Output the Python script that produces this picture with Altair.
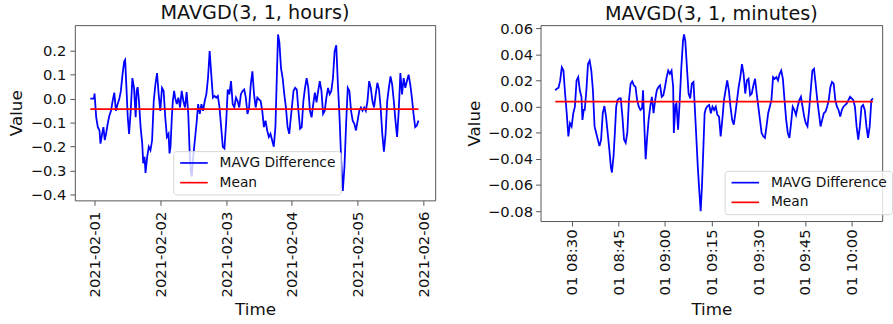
import altair as alt
import pandas as pd

TITLE_HOURS = "MAVGD(3, 1, hours)"
TITLE_MINUTES = "MAVGD(3, 1, minutes)"
X_TITLE = "Time"
Y_TITLE = "Value"
SERIES = ["MAVG Difference", "Mean"]
COLORS = ["#0000ff", "#ff0000"]

# ---- hourly panel: offsets in hours from 2021-02-01 00:00 ----
HOURS_START = "2021-02-01 00:00:00"
HOURS_OFFSET = [
    -1.56, -0.24, 0.0, 0.6, 1.2, 1.8, 2.16, 2.76, 3.24, 3.72,
    4.2, 4.8, 5.4, 6.0, 6.6, 7.2, 7.8, 8.4, 9.0, 9.6,
    10.2, 10.8, 11.16, 11.64, 12.12, 12.6, 13.2, 13.8, 14.4, 15.0,
    15.36, 15.72, 16.2, 16.8, 17.4, 17.76, 18.24, 18.6, 19.2, 19.8,
    20.4, 21.0, 21.6, 22.2, 22.8, 23.4, 24.0, 24.6, 25.2, 25.8,
    26.4, 27.0, 27.36, 27.72, 28.2, 28.56, 29.04, 29.4, 30.0, 30.6,
    31.2, 31.8, 32.4, 33.0, 33.6, 34.2, 34.68, 35.16, 35.52, 36.0,
    36.6, 37.2, 37.8, 38.4, 39.0, 39.6, 40.2, 40.8, 41.4, 42.0,
    42.6, 43.2, 43.8, 44.4, 45.0, 45.6, 46.2, 46.8, 47.4, 48.0,
    48.6, 49.2, 49.8, 50.4, 51.0, 51.6, 52.2, 52.8, 53.4, 54.0,
    54.6, 55.2, 55.8, 56.4, 57.0, 57.6, 58.2, 58.8, 59.4, 60.0,
    60.6, 61.2, 61.8, 62.4, 63.0, 63.6, 64.2, 64.8, 65.4, 66.0,
    66.6, 66.96, 67.44, 68.04, 68.64, 69.24, 69.84, 70.44, 71.04, 71.4,
    72.0, 72.6, 73.2, 73.8, 74.4, 75.0, 75.6, 76.2, 76.8, 77.4,
    78.0, 78.6, 79.2, 79.8, 80.4, 81.0, 81.6, 82.2, 82.8, 83.4,
    84.0, 84.6, 85.2, 85.8, 86.4, 87.0, 87.6, 88.2, 88.8, 89.4,
    90.0, 90.6, 91.2, 91.8, 92.4, 93.0, 93.6, 94.2, 94.8, 95.4,
    96.0, 96.6, 97.2, 97.8, 98.4, 99.0, 99.6, 100.2, 100.8, 101.4,
    102.0, 102.6, 103.2, 103.8, 104.4, 105.0, 105.6, 106.2, 106.8, 107.4,
    108.0, 108.6, 109.2, 109.8, 110.4, 111.0, 111.6, 112.2, 112.8, 113.4,
    114.0, 114.6, 115.2, 115.8, 116.4, 117.0, 117.6, 118.2,
]
HOURS_VALUE = [
    0.0, 0.0, 0.021, -0.078, -0.119, -0.133, -0.188, -0.147, -0.119, -0.173,
    -0.147, -0.105, -0.071, -0.051, -0.010, 0.025, -0.051, -0.023, -0.003, 0.032,
    0.100, 0.155, 0.162, 0.045, -0.078, -0.147, -0.051, 0.086, 0.045, -0.078,
    0.032, 0.048, -0.010, -0.119, -0.188, -0.270, -0.243, -0.310, -0.243, -0.201,
    -0.216, -0.174, -0.010, 0.059, 0.107, 0.018, -0.051, 0.045, 0.032, -0.078,
    -0.160, -0.147, -0.229, -0.201, -0.078, -0.010, 0.032, 0.004, -0.023, 0.004,
    -0.037, 0.032, -0.010, -0.037, 0.027, -0.064, -0.215, -0.310, -0.325, -0.242,
    -0.174, -0.105, -0.023, -0.064, -0.023, -0.051, -0.010, 0.018, 0.086, 0.199,
    0.100, 0.004, 0.011, 0.004, 0.011, -0.037, -0.119, -0.201, -0.208, -0.105,
    0.038, 0.018, 0.073, -0.023, -0.037, 0.004, -0.010, -0.037, 0.018, 0.032,
    0.038, 0.004, -0.064, -0.037, 0.059, 0.114, 0.018, -0.037, 0.004, -0.003,
    -0.010, -0.051, -0.119, -0.092, -0.133, -0.160, -0.147, -0.174, -0.201, -0.119,
    0.127, 0.268, 0.236, 0.127, 0.086, 0.018, -0.037, -0.119, -0.147, -0.105,
    -0.037, 0.032, 0.045, 0.038, -0.051, -0.126, -0.119, -0.010, 0.045, 0.086,
    0.045, -0.051, -0.078, -0.023, 0.025, -0.016, 0.032, 0.073, 0.032, -0.064,
    -0.051, 0.004, 0.045, 0.018, 0.032, 0.086, 0.197, 0.223, 0.059, -0.078,
    -0.256, -0.386, -0.284, -0.105, 0.045, 0.032, -0.051, -0.092, -0.105, -0.133,
    -0.092, -0.051, -0.037, -0.051, -0.037, -0.051, -0.010, 0.073, 0.045, -0.010,
    -0.037, 0.018, 0.066, 0.038, -0.037, -0.147, -0.222, -0.147, -0.010, 0.045,
    0.093, 0.059, -0.010, -0.092, -0.160, -0.051, 0.107, 0.018, 0.086, 0.045,
    0.073, 0.100, 0.059, 0.004, -0.064, -0.119, -0.112, -0.092,
]
HOURS_MEAN = -0.0435

# ---- minute panel: offsets in minutes from 2021-02-01 08:00 ----
MINUTES_START = "2021-02-01 08:00:00"
MINUTES_OFFSET = [
    24.74, 25.26, 25.79, 26.32, 26.84, 27.37, 27.89, 28.42, 28.95, 29.47,
    30.0, 30.53, 31.05, 31.58, 32.11, 32.63, 33.16, 33.47, 33.89, 34.21,
    34.74, 35.26, 35.79, 36.32, 36.84, 37.37, 37.89, 38.42, 38.95, 39.47,
    40.0, 40.53, 41.05, 41.58, 42.11, 42.63, 42.95, 43.47, 43.89, 44.32,
    44.74, 45.26, 45.79, 46.32, 46.84, 47.37, 47.89, 48.42, 48.95, 49.47,
    50.0, 50.53, 51.05, 51.58, 52.11, 52.63, 52.95, 53.37, 53.79, 54.21,
    54.74, 55.26, 55.79, 56.32, 56.84, 57.37, 57.89, 58.42, 58.95, 59.47,
    60.0, 60.53, 61.05, 61.58, 62.11, 62.63, 62.84, 63.37, 63.68, 64.21,
    64.74, 65.26, 65.79, 66.11, 66.53, 67.05, 67.58, 68.11, 68.63, 69.16,
    69.47, 70.0, 70.53, 71.05, 71.47, 71.89, 72.32, 72.74, 73.16, 73.68,
    74.21, 74.74, 75.26, 75.79, 76.32, 76.84, 77.37, 77.89, 78.42, 78.95,
    79.47, 80.0, 80.53, 81.05, 81.58, 82.11, 82.63, 83.16, 83.68, 84.21,
    84.74, 85.26, 85.79, 86.32, 86.84, 87.37, 87.89, 88.42, 88.95, 89.47,
    90.0, 90.53, 91.05, 91.58, 92.11, 92.63, 93.16, 93.68, 94.21, 94.74,
    95.26, 95.79, 96.32, 96.84, 97.37, 97.89, 98.42, 98.95, 99.47, 100.0,
    100.53, 101.05, 101.58, 102.11, 102.63, 103.16, 103.68, 104.21, 104.74, 105.26,
    105.79, 106.32, 106.84, 107.37, 107.89, 108.42, 108.95, 109.47, 110.0, 110.53,
    111.05, 111.58, 112.11, 112.63, 113.16, 113.68, 114.21, 114.74, 115.26, 115.79,
    116.32, 116.84, 117.37, 117.89, 118.42, 118.95, 119.47, 120.0, 120.53, 121.05,
    121.58, 122.11, 122.63, 123.16, 123.68, 124.21, 124.74, 125.26, 125.79, 126.32,
    126.84,
]
MINUTES_VALUE = [
    0.0126, 0.0138, 0.0146, 0.0201, 0.0302, 0.0277, 0.0101, -0.0050, -0.0227, -0.0126,
    -0.0151, -0.0050, 0.0, 0.0201, 0.0227, 0.0126, 0.0076, -0.0101, -0.0025, -0.0025,
    0.0126, 0.0327, 0.0353, 0.0277, 0.0126, -0.0151, -0.0201, -0.0252, -0.0302, -0.0252,
    -0.0050, 0.0005, -0.0076, -0.0201, -0.0327, -0.0466, -0.0504, -0.0378, -0.0201, 0.0,
    0.0050, 0.0063, 0.0063, -0.0076, -0.0252, -0.0277, -0.0201, 0.0050, 0.0176, 0.0194,
    0.0164, 0.0151, 0.0050, 0.0, -0.0025, -0.0013, 0.0126, -0.0151, -0.0403, -0.0252,
    -0.0101, 0.0, 0.0076, -0.0050, 0.0050, 0.0126, 0.0151, 0.0164, 0.0076, 0.0088,
    0.0151, 0.0227, 0.0277, 0.0252, 0.0277, 0.0151, -0.0201, 0.0013, 0.0025, -0.0176,
    0.0050, 0.0302, 0.0504, 0.0554, 0.0504, 0.0302, 0.0101, 0.0063, 0.0176, 0.0189,
    0.0050, -0.0201, -0.0453, -0.0655, -0.0801, -0.0604, -0.0327, -0.0050, -0.0013, 0.0005,
    0.0013, -0.0050, 0.0, -0.0025, 0.0, -0.0063, -0.0076, -0.0227, -0.0101, 0.0050,
    0.0126, 0.0201, 0.0126, 0.0, -0.0101, -0.0138, -0.0050, 0.0050, 0.0151, 0.0227,
    0.0327, 0.0252, 0.0101, 0.0201, 0.0214, 0.0088, 0.0101, 0.0164, 0.0214, 0.0101,
    0.0, -0.0101, -0.0201, -0.0227, -0.0239, -0.0151, -0.0050, 0.0, 0.0050, 0.0227,
    0.0214, 0.0227, 0.0201, 0.0252, 0.0277, 0.0214, 0.0050, -0.0101, -0.0201, -0.0239,
    -0.0126, 0.0, -0.0025, -0.0063, 0.0, 0.0050, 0.0076, 0.0, -0.0076, -0.0126,
    -0.0151, -0.0025, 0.0126, 0.0277, 0.0290, 0.0176, 0.0050, -0.0050, -0.0151, -0.0101,
    -0.0050, -0.0038, 0.0, 0.0050, 0.0151, 0.0189, 0.0176, 0.0050, 0.0, -0.0025,
    -0.0076, -0.0025, 0.0, 0.0013, 0.0025, 0.0050, 0.0076, 0.0063, 0.0050, 0.0,
    -0.0151, -0.0252, -0.0151, 0.0, 0.0013, -0.0025, -0.0151, -0.0239, -0.0151, 0.0050,
    0.0063,
]
MINUTES_MEAN = 0.0039

HOURS_X_TICK_DAYS = [1, 2, 3, 4, 5, 6]
MINUTES_X_TICKS = [(8, 30), (8, 45), (9, 0), (9, 15), (9, 30), (9, 45), (10, 0)]
HOURS_Y_TICKS = [-0.4, -0.3, -0.2, -0.1, 0.0, 0.1, 0.2]
MINUTES_Y_TICKS = [-0.08, -0.06, -0.04, -0.02, 0.0, 0.02, 0.04, 0.06]


def build_frame(start, offsets, unit, values, mean):
    times = pd.Timestamp(start) + pd.to_timedelta(offsets, unit=unit)
    diff = pd.DataFrame({"time": times, "value": values, "series": SERIES[0]})
    avg = pd.DataFrame({"time": [times[0], times[-1]], "value": [mean, mean],
                        "series": SERIES[1]})
    return pd.concat([diff, avg], ignore_index=True)


hours_df = build_frame(HOURS_START, HOURS_OFFSET, "h", HOURS_VALUE, HOURS_MEAN)
minutes_df = build_frame(MINUTES_START, MINUTES_OFFSET, "m", MINUTES_VALUE, MINUTES_MEAN)

MINUS = "\u2212"
FRAME = "#555555"


def panel(df, title, title_offset, x_domain, x_values, x_fmt, x_label_pad, x_title_pad,
          y_domain, y_values, y_fmt, y_label_pad, y_title_pad, w, h, lx, ly):
    legend = alt.Legend(
        title=None, orient="none", legendX=lx, legendY=ly,
        symbolType="M-1,0H4.6", symbolSize=100, symbolStrokeWidth=1.7,
        labelFontSize=14, labelOffset=28, padding=5, rowPadding=6,
        fillColor="rgba(255,255,255,0.8)", strokeColor="#d6d6d6",
        cornerRadius=3, labelColor="#111111", labelFont="DejaVu Sans",
    )
    return alt.Chart(
        df,
        title=alt.TitleParams(title, frame="group", offset=title_offset),
    ).mark_line(strokeWidth=1.8).encode(
        x=alt.X("time:T", title=X_TITLE,
                scale=alt.Scale(domain=x_domain, nice=False),
                axis=alt.Axis(values=x_values, format=x_fmt, labelAngle=270,
                              labelPadding=x_label_pad, titlePadding=x_title_pad,
                              labelOverlap=False, labelFlush=False)),
        y=alt.Y("value:Q", title=Y_TITLE,
                scale=alt.Scale(domain=y_domain, nice=False, zero=False),
                axis=alt.Axis(values=y_values, format=y_fmt,
                              labelExpr=f"replace(datum.label, '-', '{MINUS}')",
                              labelPadding=y_label_pad, titlePadding=y_title_pad,
                              labelFlush=False)),
        color=alt.Color("series:N", scale=alt.Scale(domain=SERIES, range=COLORS),
                        legend=legend),
    ).properties(width=w, height=h)


left = panel(
    hours_df, TITLE_HOURS, 2,
    [alt.DateTime(year=2021, month=1, date=31, hours=16, minutes=48),
     alt.DateTime(year=2021, month=2, date=6, hours=4, minutes=18)],
    [alt.DateTime(year=2021, month=2, date=d) for d in HOURS_X_TICK_DAYS],
    "%Y-%m-%d", 6, 5,
    [-0.425, 0.307], HOURS_Y_TICKS, ".1f", 4, 5,
    366, 178, 100, 128,
)

right = panel(
    minutes_df, TITLE_MINUTES, -2.5,
    [alt.DateTime(year=2021, month=2, date=1, hours=8, minutes=20),
     alt.DateTime(year=2021, month=2, date=1, hours=10, minutes=9, seconds=48)],
    [alt.DateTime(year=2021, month=2, date=1, hours=hh, minutes=mm) for hh, mm in MINUTES_X_TICKS],
    "%d %H:%M", 3, 7,
    [-0.0876, 0.0625], MINUTES_Y_TICKS, ".2f", 3, 4,
    347, 199, 187, 148,
)

chart = alt.hconcat(left, right, spacing=29).resolve_scale(
    x="independent", y="independent", color="independent"
).resolve_legend(color="independent").properties(
    padding={"left": 7, "top": 0, "right": 0, "bottom": 0}
).configure(font="DejaVu Sans").configure_view(
    stroke=FRAME, strokeWidth=1
).configure_axis(
    domain=False, grid=False, tickColor=FRAME, tickSize=5, tickWidth=1,
    labelFontSize=15, labelColor="#111111", labelFont="DejaVu Sans",
    titleFontSize=17, titleFontWeight="normal", titleColor="#111111", titleFont="DejaVu Sans",
).configure_title(fontSize=19.5, fontWeight="normal", font="DejaVu Sans", color="#111111")

chart.save("out.html", embed_options={"renderer": "svg", "actions": False})
